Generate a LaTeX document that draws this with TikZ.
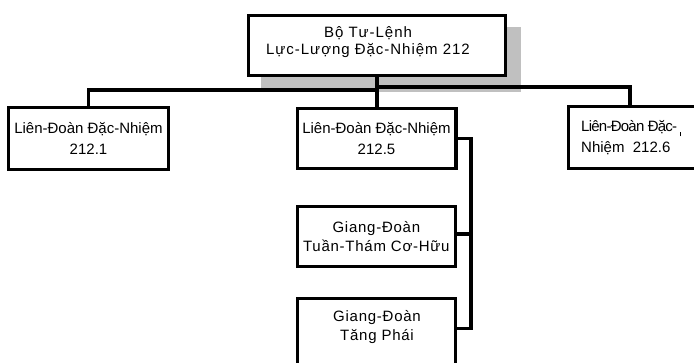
\documentclass[tikz,border=0pt]{standalone}
\usepackage{fontspec}
\setmainfont{Liberation Sans}
\usetikzlibrary{calc,backgrounds}
\definecolor{shadowgray}{RGB}{192,192,192}
\tikzset{
  orgbox/.style={draw=black, line width=3.3pt, fill=white, inner sep=0pt},
  conn/.style={draw=black, line width=3.3pt},
  unittext/.style={font=\fontsize{15}{20.7}\selectfont, align=center},
  boattext/.style={font=\fontsize{15}{18.3}\selectfont\addfontfeature{LetterSpace=5}, align=center, inner sep=0pt},
  hqtext/.style={font=\fontsize{15}{17.7}\selectfont\addfontfeature{LetterSpace=6.5}, align=center, inner sep=0pt},
}
\begin{document}
\begin{tikzpicture}[x=1pt,y=-1pt]
\path[use as bounding box] (0,0) rectangle (694,362);
\clip (0,0) rectangle (694,362);

% bus coordinates
\coordinate (busL) at (377,90);
\coordinate (busR) at (377,87);

% headquarters box, its shadow and text
\node[orgbox, minimum width=256.7pt, minimum height=59.7pt] (top) at (377,45.5) {};
\begin{scope}[on background layer]
  \fill[shadowgray] ($(top.north west)+(14,13)$) rectangle ($(top.south east)+(14,15)$);
\end{scope}
\node[hqtext] (toptext) at (368,42) {Bộ Tư-Lệnh\\Lực-Lượng Đặc-Nhiệm 212};

% unit boxes
\node[orgbox, unittext, minimum width=159.7pt, minimum height=61.7pt] (lb) at (88.5,138.5) {Liên-Đoàn Đặc-Nhiệm\\212.1};
\node[orgbox, unittext, minimum width=158.7pt, minimum height=60pt] (mid) at (376.5,138.35) {Liên-Đoàn Đặc-Nhiệm\\212.5};
\node[orgbox, minimum width=160pt, minimum height=61.7pt] (rb) at (648.65,137.5) {};
\node[font=\fontsize{15}{21}\selectfont, align=left, inner sep=0pt, anchor=west] (rbtext) at (581,138)
  {{\addfontfeature{LetterSpace=-5}Liên-Đoàn Đặc-}\hspace{2.5pt}\rule[-4.5pt]{0.9pt}{4.5pt}\\Nhiệm\ \ 212.6};

\node[orgbox, boattext, minimum width=158pt, minimum height=59.7pt] (gd1) at (376.35,236.5) {Giang-Đoàn\\Tuần-Thám Cơ-Hữu};
\node[orgbox, minimum width=158pt, minimum height=75pt] (gd2) at (376.35,335.85) {};
\node[boattext] (gd2text) at (377,326.9) {Giang-Đoàn\\Tăng Phái};

% connector lines
\draw[conn] (top.south) -- (top.south |- mid.north);
\draw[conn] (lb.north) |- (busL);
\draw[conn] (busR) -| ([xshift=63pt]rb.north west);
\draw[conn] (mid.east) -| ([xshift=14pt,yshift=-32pt]gd2.north east) -- ([yshift=-32pt]gd2.north east);
\draw[conn] ([yshift=2.5pt]gd1.east) -- ++(14,0);
\end{tikzpicture}
\end{document}
